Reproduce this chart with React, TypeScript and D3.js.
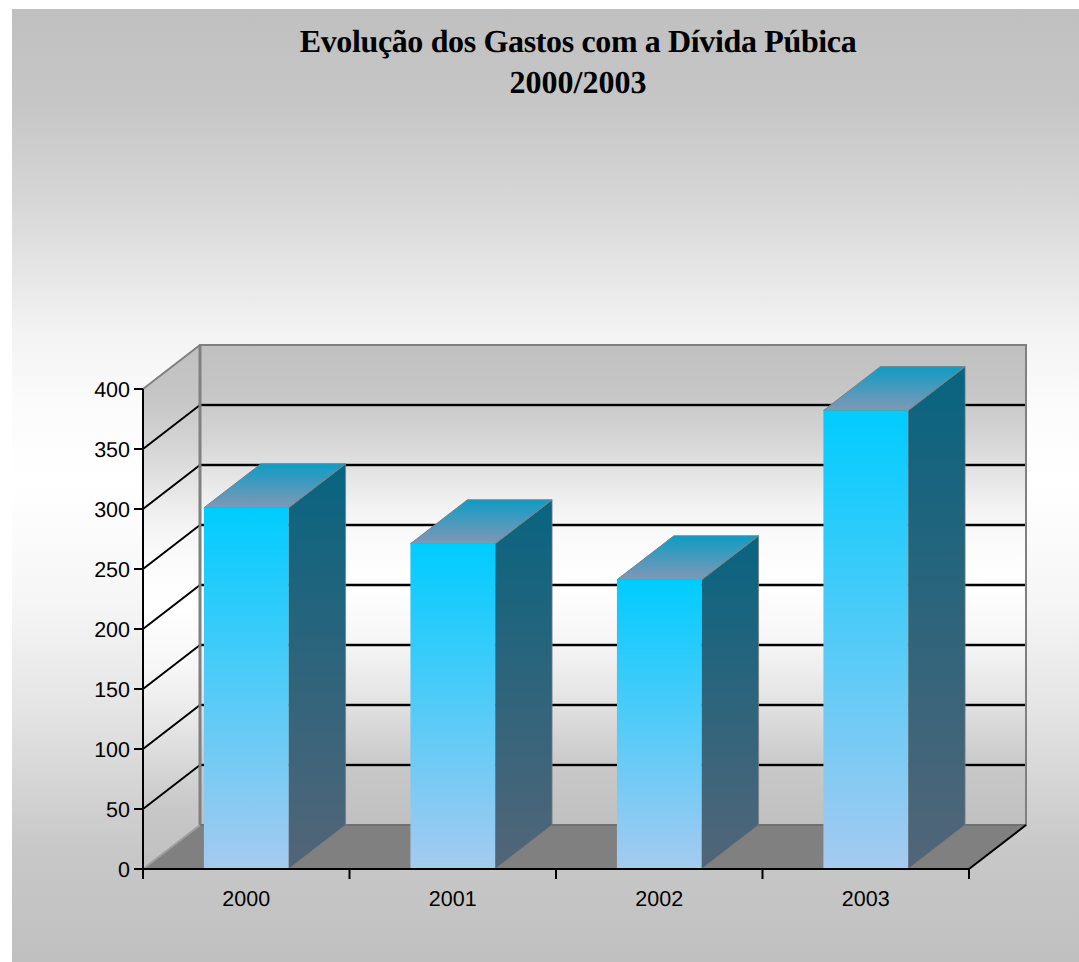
import React from 'react';
import * as d3 from 'd3';

// Values
const years = ['2000', '2001', '2002', '2003'];
const gastos = [301, 271, 241, 382];
const yTicks = [0, 50, 100, 150, 200, 250, 300, 350, 400];
const titleLines = ['Evolução dos Gastos com a Dívida Púbica', '2000/2003'];

// Grey ramp of the page and the walls, it is not linear in the original
const rampOffsets = [0, 0.1, 0.2, 0.34, 0.41, 0.5, 0.62, 0.725, 0.88, 1];
const rampColors = ['#c0c0c0', '#c6c6c6', '#d6d6d6', '#f3f3f3', '#fbfbfb', '#ffffff', '#f6f6f6', '#e6e6e6', '#c8c8c8', '#c0c0c0'];

const width = 1079;
const height = 962;
const frame = { left: 143, right: 969, top: 389, bottom: 869 };
const depth = { x: 57, y: -44 };

const xScale = d3.scaleBand<string>()
  .domain(years)
  .range([frame.left, frame.right])
  .paddingInner(0.59)
  .paddingOuter(0.295);

const yScale = d3.scaleLinear().domain([0, 400]).range([frame.bottom, frame.top]);

// Category boundaries, the ticks sit between the bars rather than under them
const step = xScale.step();
const xTicks = d3.range(years.length + 1).map(i => frame.left + i * step);

const poly = (pts: [number, number][]) => (d3.line()(pts) || '') + 'Z';

export default function App() {
  const y0 = yScale(0);
  const y400 = yScale(400);
  const left = frame.left;
  const right = frame.right;

  return (
    <svg
      width={width}
      height={height}
      viewBox={`0 0 ${width} ${height}`}
      textRendering="geometricPrecision"
      style={{ position: 'absolute', left: 0, top: 0, display: 'block' }}
    >
      <defs>
        <linearGradient id="bgGrad" x1="0" y1="0" x2="0" y2="1">
          {rampOffsets.map((o, i) => (
            <stop key={o} offset={o} stopColor={rampColors[i]} />
          ))}
        </linearGradient>
        <linearGradient id="frontGrad" x1="0" y1="0" x2="0" y2="1">
          <stop offset="0%" stopColor="#00ccff" />
          <stop offset="100%" stopColor="#a6caf0" />
        </linearGradient>
        <linearGradient id="topGrad" x1="0" y1="0" x2="0" y2="1">
          <stop offset="0%" stopColor="#0f9cc4" />
          <stop offset="100%" stopColor="#7f98b6" />
        </linearGradient>
        <linearGradient id="sideGrad" x1="0" y1="0" x2="0" y2="1">
          <stop offset="0%" stopColor="#086480" />
          <stop offset="100%" stopColor="#536578" />
        </linearGradient>
      </defs>

      <rect x={12} y={9} width={width - 12} height={height - 9} fill="url(#bgGrad)" />

      {/* Title, the long line runs a little tighter than the short one */}
      <g fontFamily="'Liberation Serif', serif" fontWeight="bold" fontSize={32} textAnchor="middle" fill="#000">
        {titleLines.map((line, i) => (
          <text key={line} x={578} y={52 + i * 41} letterSpacing={i === 0 ? -0.36 : 0}>{line}</text>
        ))}
      </g>

      {/* Walls and floor */}
      <rect x={left + depth.x} y={y400 + depth.y} width={right - left} height={y0 - y400} fill="url(#bgGrad)" stroke="#808080" strokeWidth={2} />
      <path
        d={poly([[left, y400], [left + depth.x, y400 + depth.y], [left + depth.x, y0 + depth.y], [left, y0]])}
        fill="url(#bgGrad)"
      />
      <path
        d={poly([[left, y0], [left + depth.x, y0 + depth.y], [right + depth.x, y0 + depth.y], [right, y0]])}
        fill="#808080"
      />

      {/* Gridlines on both walls */}
      {yTicks.slice(1, -1).map(t => (
        <g key={t} fill="none">
          <line x1={left + depth.x} y1={yScale(t) + depth.y} x2={right + depth.x} y2={yScale(t) + depth.y} stroke="#808080" strokeWidth={3} />
          <line x1={left + depth.x} y1={yScale(t) + depth.y} x2={right + depth.x} y2={yScale(t) + depth.y} stroke="#000" strokeWidth={2} />
          <line x1={left} y1={yScale(t)} x2={left + depth.x} y2={yScale(t) + depth.y} stroke="#000" strokeWidth={2} />
        </g>
      ))}

      {/* Wall edges */}
      <line x1={left} y1={y400} x2={left + depth.x} y2={y400 + depth.y} stroke="#808080" strokeWidth={2} />
      <line x1={left + depth.x} y1={y400 + depth.y} x2={left + depth.x} y2={y0 + depth.y} stroke="#808080" strokeWidth={3} />
      <line x1={right + depth.x} y1={y400 + depth.y} x2={right + depth.x} y2={y0 + depth.y} stroke="#808080" strokeWidth={2} />
      <line x1={left + depth.x} y1={y0 + depth.y} x2={right + depth.x} y2={y0 + depth.y} stroke="#707070" strokeWidth={2} />
      <line x1={left} y1={y0} x2={left + depth.x} y2={y0 + depth.y} stroke="#a0a0a0" strokeWidth={2} />
      <line x1={right} y1={y0} x2={right + depth.x} y2={y0 + depth.y} stroke="#000" strokeWidth={2} />

      {/* Bars */}
      {years.map((year, i) => {
        const x = xScale(year) as number;
        const w = xScale.bandwidth();
        const yTop = yScale(gastos[i]);
        return (
          <g key={year}>
            <path
              d={poly([[x + w, yTop], [x + w + depth.x, yTop + depth.y], [x + w + depth.x, y0 + depth.y], [x + w, y0]])}
              fill="url(#sideGrad)"
              stroke="#808080"
              strokeWidth={0.75}
            />
            <path
              d={poly([[x, yTop], [x + depth.x, yTop + depth.y], [x + w + depth.x, yTop + depth.y], [x + w, yTop]])}
              fill="url(#topGrad)"
              stroke="#808080"
              strokeWidth={1}
            />
            <rect x={x} y={yTop} width={w} height={y0 - yTop} fill="url(#frontGrad)" />
          </g>
        );
      })}

      {/* Axes */}
      <g stroke="#000" strokeWidth={2} fill="none">
        <line x1={left} y1={y400} x2={left} y2={y0 + 10} />
        <line x1={left} y1={y0} x2={right} y2={y0} />
        {yTicks.map(t => (
          <line key={t} x1={left - 9} y1={yScale(t)} x2={left} y2={yScale(t)} />
        ))}
        {xTicks.map(x => (
          <line key={x} x1={x} y1={y0} x2={x} y2={y0 + 10} />
        ))}
      </g>
      <g fontFamily="'Liberation Sans', sans-serif" fontSize={21.5} fill="#000">
        {yTicks.map(t => (
          <text key={t} x={left - 13} y={yScale(t) + 7.5} textAnchor="end">{t}</text>
        ))}
        {years.map(year => (
          <text key={year} x={(xScale(year) as number) + xScale.bandwidth() / 2} y={905.5} textAnchor="middle">{year}</text>
        ))}
      </g>
    </svg>
  );
}
